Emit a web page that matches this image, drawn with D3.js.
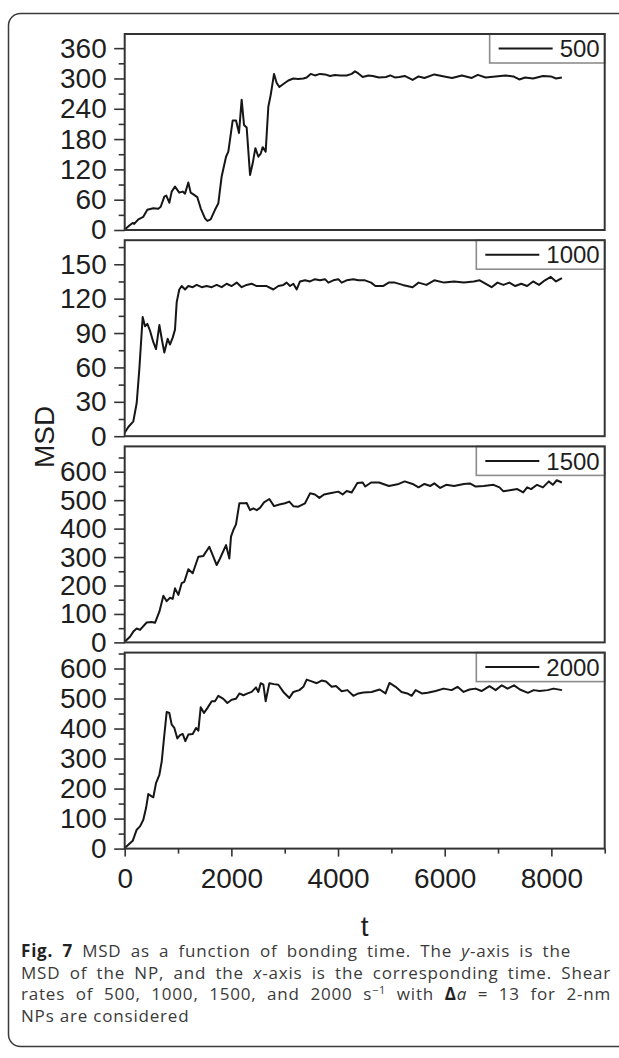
<!DOCTYPE html>
<html>
<head>
<meta charset="utf-8">
<script src="https://cdn.jsdelivr.net/npm/d3@7/dist/d3.min.js"></script>
<style>
  html, body { margin: 0; padding: 0; background: #fff; }
  svg { display: block; }
</style>
</head>
<body>
<div id="chart"></div>
<script>
// MSD vs t: [t, MSD]
const series500 = [[0,1],[99,10],[150,14],[178,12],[256,21],[349,26],[424,40],[536,43],[630,42],[675,46],[743,66],[780,68],[837,54],[881,76],[943,86],[1024,74],[1087,76],[1131,72],[1193,94],[1237,74],[1281,71],[1362,65],[1425,43],[1506,23],[1550,18],[1612,21],[1693,40],[1756,53],[1818,106],[1900,145],[1943,155],[2025,217],[2087,217],[2143,192],[2193,258],[2237,208],[2287,203],[2350,109],[2400,132],[2450,162],[2506,145],[2550,151],[2587,164],[2643,155],[2693,244],[2737,267],[2800,309],[2850,291],[2900,283],[2975,289],[3068,296],[3162,300],[3256,299],[3350,300],[3412,302],[3487,309],[3568,306],[3662,309],[3756,308],[3850,305],[3943,307],[4037,306],[4162,306],[4256,309],[4318,314],[4381,310],[4462,303],[4568,306],[4650,305],[4768,302],[4900,303],[4980,306],[5065,302],[5150,303],[5250,305],[5398,297],[5510,304],[5620,301],[5805,308],[5990,304],[6138,301],[6323,306],[6508,301],[6620,307],[6768,302],[6953,304],[7138,306],[7287,304],[7398,298],[7509,302],[7657,300],[7842,305],[7990,304],[8087,300],[8197,302]];

const series1000 = [[0,3],[68,8],[162,13],[225,29],[275,59],[337,104],[381,96],[425,98],[475,92],[537,82],[587,76],[650,97],[694,85],[743,73],[806,85],[850,80],[900,86],[943,93],[975,117],[1024,128],[1068,131],[1131,128],[1193,131],[1275,130],[1350,132],[1443,130],[1537,131],[1631,130],[1725,132],[1818,130],[1912,133],[2006,131],[2100,134],[2193,130],[2287,132],[2381,133],[2475,131],[2568,131],[2662,131],[2787,128],[2881,131],[2975,132],[3037,134],[3100,131],[3162,133],[3225,128],[3287,135],[3381,136],[3475,135],[3568,137],[3662,136],[3756,137],[3818,134],[3912,136],[4006,137],[4068,134],[4162,136],[4287,137],[4381,136],[4506,136],[4620,134],[4700,131],[4843,131],[4950,134],[5065,134],[5213,132],[5398,130],[5510,134],[5657,132],[5805,136],[5990,134],[6175,135],[6360,134],[6545,135],[6656,136],[6805,132],[6879,130],[6990,134],[7101,132],[7212,134],[7324,131],[7435,133],[7546,131],[7657,135],[7768,132],[7879,136],[7990,139],[8087,135],[8197,138]];

const series1500 = [[0,2],[99,20],[162,38],[225,49],[287,44],[412,70],[506,72],[568,69],[650,108],[725,164],[787,145],[850,157],[900,153],[943,190],[1006,167],[1068,208],[1118,213],[1193,257],[1275,243],[1381,301],[1475,304],[1587,336],[1650,307],[1725,272],[1787,295],[1900,342],[1962,295],[1993,372],[2037,395],[2087,415],[2150,489],[2256,489],[2287,490],[2350,465],[2412,471],[2475,465],[2537,473],[2612,492],[2712,504],[2800,479],[2900,485],[3006,489],[3087,495],[3162,479],[3256,477],[3381,489],[3475,524],[3568,520],[3650,508],[3737,520],[3850,524],[4006,530],[4087,520],[4162,532],[4256,527],[4362,560],[4462,562],[4510,548],[4620,562],[4768,562],[4954,550],[5139,557],[5250,566],[5398,557],[5510,545],[5620,557],[5732,550],[5805,559],[5916,543],[6027,554],[6175,550],[6360,557],[6471,559],[6582,548],[6731,550],[6916,554],[7027,545],[7101,531],[7250,536],[7361,539],[7472,527],[7546,545],[7620,539],[7731,554],[7842,545],[7953,566],[8027,554],[8101,570],[8197,562]];

const series2000 = [[0,2],[68,13],[150,26],[225,63],[287,74],[349,96],[400,135],[443,182],[506,174],[537,171],[587,218],[650,246],[694,290],[737,368],[787,455],[837,452],[881,413],[931,402],[987,367],[1037,378],[1087,382],[1137,358],[1193,380],[1275,382],[1337,402],[1381,393],[1425,471],[1487,452],[1550,468],[1631,491],[1693,491],[1756,509],[1850,499],[1925,485],[2006,496],[2087,499],[2150,517],[2225,511],[2306,517],[2381,522],[2462,537],[2506,522],[2550,551],[2600,546],[2643,491],[2712,551],[2800,548],[2881,546],[2975,522],[3087,502],[3162,522],[3275,528],[3350,539],[3412,563],[3506,557],[3600,551],[3693,560],[3775,557],[3881,539],[3962,542],[4068,524],[4175,528],[4287,509],[4381,517],[4475,520],[4630,522],[4780,530],[4890,517],[4965,552],[5080,539],[5190,522],[5300,517],[5380,509],[5455,528],[5570,517],[5680,519],[5830,525],[5980,533],[6130,528],[6240,539],[6355,522],[6465,530],[6580,533],[6690,525],[6840,541],[6955,528],[7070,544],[7180,533],[7300,544],[7410,530],[7560,519],[7670,528],[7780,525],[7930,528],[8040,533],[8200,528]];

const legendNames = ["500", "1000", "1500", "2000"];
const yMax = [388, 171, 689, 653];
const yStep = [60, 30, 100, 100];
const yLastTick = [360, 150, 600, 600];
const xTickValues = [0, 2000, 4000, 6000, 8000];
const xMinorValues = [1000, 3000, 5000, 7000, 9000];

const allSeries = [series500, series1000, series1500, series2000];

const W = 619, H = 1058;
const plotLeft = 124.7, plotWidth = 480;
const panelTop0 = 34, panelStep = 206.2, panelHeight = 196;
const axisFont = "'Liberation Sans', Arial, sans-serif";
const capFont = "'Open Sans', 'Noto Sans', sans-serif";

const svg = d3.select("#chart").append("svg")
    .attr("width", W)
    .attr("height", H);

// outer rounded frame, open to the right
svg.append("rect")
    .attr("x", 8.5).attr("y", 13.5)
    .attr("width", 700).attr("height", 1033)
    .attr("rx", 12)
    .attr("fill", "none")
    .attr("stroke", "#3a3a3a")
    .attr("stroke-width", 1.5);

const x = d3.scaleLinear().domain([0, 9000]).range([0, plotWidth]);

allSeries.forEach((data, i) => {
    const top = panelTop0 + i * panelStep;
    const g = svg.append("g")
        .attr("transform", "translate(" + plotLeft + "," + top + ")");

    const y = d3.scaleLinear().domain([0, yMax[i]]).range([panelHeight, 0]);

    const major = d3.range(0, yLastTick[i] + 1, yStep[i]);
    const minor = d3.range(yStep[i] / 2, yMax[i], yStep[i]);

    // minor y ticks
    g.append("g")
        .call(d3.axisLeft(y).tickValues(minor).tickSize(6).tickFormat(""))
        .call(a => a.select(".domain").remove())
        .selectAll("line").attr("stroke", "#333").attr("stroke-width", 1.6);

    // major y ticks with labels
    const ya = g.append("g")
        .call(d3.axisLeft(y).tickValues(major).tickSize(10.5).tickPadding(7.5).tickFormat(d3.format("d")))
        .call(a => a.select(".domain").remove());
    ya.selectAll("line").attr("stroke", "#333").attr("stroke-width", 1.6);
    ya.selectAll("text")
        .attr("font-family", axisFont)
        .attr("font-size", 28)
        .attr("fill", "#1e1e1e");

    if (i === allSeries.length - 1) {
        const xm = g.append("g")
            .attr("transform", "translate(0," + panelHeight + ")")
            .call(d3.axisBottom(x).tickValues(xMinorValues).tickSize(5).tickFormat(""))
            .call(a => a.select(".domain").remove());
        xm.selectAll("line").attr("stroke", "#333").attr("stroke-width", 1.6);

        const xa = g.append("g")
            .attr("transform", "translate(0," + panelHeight + ")")
            .call(d3.axisBottom(x).tickValues(xTickValues).tickSize(8).tickPadding(12).tickFormat(d3.format("d")))
            .call(a => a.select(".domain").remove());
        xa.selectAll("line").attr("stroke", "#333").attr("stroke-width", 1.6);
        xa.selectAll("text")
            .attr("font-family", axisFont)
            .attr("font-size", 28)
            .attr("fill", "#1e1e1e");
    }

    // data line
    g.append("path")
        .datum(data)
        .attr("fill", "none")
        .attr("stroke", "#161616")
        .attr("stroke-width", 2)
        .attr("stroke-linejoin", "round")
        .attr("d", d3.line().x(d => x(d[0])).y(d => y(d[1])));

    // legend box in the upper right corner
    const lh = 29;
    const lg = g.append("g");
    const lt = lg.append("text")
        .attr("text-anchor", "end")
        .attr("x", plotWidth - 5)
        .attr("y", lh / 2)
        .attr("dy", "0.36em")
        .attr("font-family", axisFont)
        .attr("font-size", 24)
        .attr("fill", "#1e1e1e")
        .text(legendNames[i]);
    const tw = lt.node().getComputedTextLength();
    const lw = 9 + 54 + 7 + tw + 5;
    lg.insert("rect", "text")
        .attr("x", plotWidth - lw).attr("y", 0)
        .attr("width", lw).attr("height", lh)
        .attr("fill", "#fff")
        .attr("stroke", "#8c8c8c")
        .attr("stroke-width", 1.6);
    lg.append("line")
        .attr("x1", plotWidth - lw + 9).attr("x2", plotWidth - lw + 63)
        .attr("y1", lh / 2).attr("y2", lh / 2)
        .attr("stroke", "#161616")
        .attr("stroke-width", 2);

    // panel frame
    g.append("rect")
        .attr("width", plotWidth).attr("height", panelHeight)
        .attr("fill", "none")
        .attr("stroke", "#333")
        .attr("stroke-width", 2);
});

// axis titles
svg.append("text")
    .attr("transform", "translate(44,437) rotate(-90)")
    .attr("text-anchor", "middle")
    .attr("dy", "0.36em")
    .attr("font-family", axisFont)
    .attr("font-size", 28)
    .attr("fill", "#1e1e1e")
    .text("MSD");

svg.append("text")
    .attr("x", plotLeft + plotWidth / 2)
    .attr("y", 936)
    .attr("text-anchor", "middle")
    .attr("font-family", axisFont)
    .attr("font-size", 28)
    .attr("fill", "#1e1e1e")
    .text("t");

// caption, justified line by line
const captionLines = [
    [{s: "Fig. 7", b: true}, {s: " MSD as a function of bonding time. The "}, {s: "y", it: true}, {s: "-axis is the"}],
    [{s: "MSD of the NP, and the "}, {s: "x", it: true}, {s: "-axis is the corresponding time. Shear"}],
    [{s: "rates of 500, 1000, 1500, and 2000 s"}, {s: "\u22121", sup: true}, {s: " with "}, {s: "\u0394", b: true}, {s: "a", it: true}, {s: " = 13 for 2-nm"}],
    [{s: "NPs are considered"}]
];
const captionWidths = [550, 590, 590, null];
const capX = 21, capY0 = 957, capDy = 21.6;

captionLines.forEach((parts, i) => {
    const txt = svg.append("text")
        .attr("x", capX)
        .attr("y", capY0 + i * capDy)
        .attr("font-family", capFont)
        .attr("font-size", 17)
        .attr("letter-spacing", 0.8)
        .attr("fill", "#3a3a3a");
    parts.forEach(p => {
        const ts = txt.append("tspan").text(p.s);
        if (p.b) ts.attr("font-weight", "bold").attr("fill", "#222");
        if (p.it) ts.attr("font-style", "italic");
        if (p.sup) ts.attr("font-size", 11).attr("dy", -6);
        if (i === 2 && p.s === " with ") ts.attr("dy", 6);
    });
    if (captionWidths[i]) {
        const w = txt.node().getComputedTextLength();
        const spaces = parts.map(p => p.s).join("").split(" ").length - 1;
        txt.attr("word-spacing", Math.max(0, (captionWidths[i] - w) / spaces));
    }
});
</script>
</body>
</html>
